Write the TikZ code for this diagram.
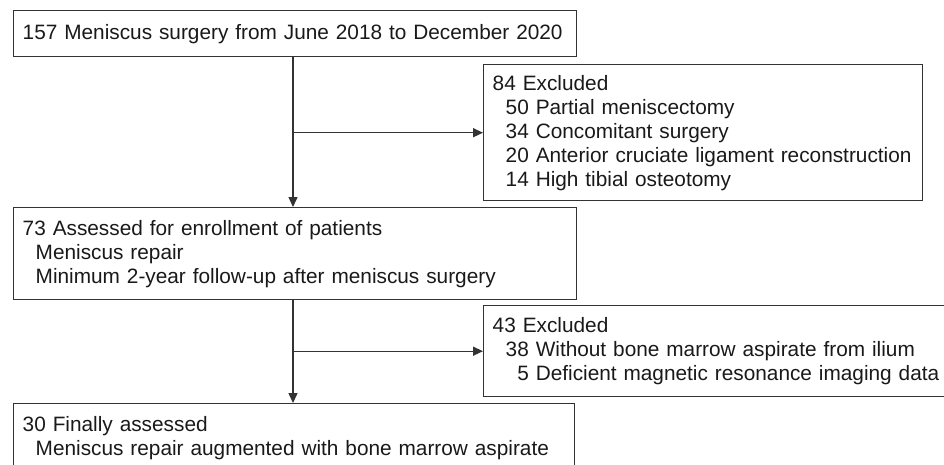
\documentclass[tikz,border=0pt]{standalone}
\usepackage{fontspec}
\setmainfont{Liberation Sans}
\usetikzlibrary{arrows.meta}
\newcommand{\ind}{\hspace*{13pt}}
\newcommand{\oneline}[1]{\mbox{#1}}
\begin{document}
\begin{tikzpicture}[x=1pt,y=-1pt,
  box/.style={draw=black!80, line width=1.4pt, anchor=north west, align=left,
    inner xsep=9pt, inner ysep=0pt, font=\fontsize{20.8}{24}\selectfont, text=black!90},
  conn/.style={draw=black!80, line width=1.4pt},
  arr/.style={conn, -{Triangle[length=10pt,width=9pt]}}]
\useasboundingbox (0,0) rectangle (944,464);

\node[box, text width=545pt, minimum height=46pt] (b1) at (13,10)
  {\oneline{157 Meniscus surgery from June 2018 to December 2020}};
\node[box, text width=421pt, minimum height=136pt] (e1) at (483,64)
  {\oneline{84 Excluded}\\
   \oneline{\ind 50 Partial meniscectomy}\\
   \oneline{\ind 34 Concomitant surgery}\\
   \oneline{\ind 20 Anterior cruciate ligament reconstruction}\\
   \oneline{\ind 14 High tibial osteotomy}};
\node[box, text width=545pt, minimum height=92pt] (b2) at (13,207)
  {\oneline{73 Assessed for enrollment of patients}\\
   \oneline{\ind Meniscus repair}\\
   \oneline{\ind Minimum 2-year follow-up after meniscus surgery}};
\node[box, text width=447pt, minimum height=91pt] (e2) at (483,305)
  {\oneline{43 Excluded}\\
   \oneline{\ind 38 Without bone marrow aspirate from ilium}\\
   \oneline{\ind\phantom{3}5 Deficient magnetic resonance imaging data}};
\node[box, text width=543pt, minimum height=68pt] (b3) at (13,403)
  {\oneline{30 Finally assessed}\\
   \oneline{\ind Meniscus repair augmented with bone marrow aspirate}};

\coordinate (v) at (293,0);
\draw[arr] (b1.south -| v) -- (b2.north -| v);
\draw[arr] (b2.south -| v) -- (b3.north -| v);
\draw[arr] (e1.west -| v) -- (e1.west);
\draw[arr] (e2.west -| v) -- (e2.west);
\end{tikzpicture}
\end{document}
